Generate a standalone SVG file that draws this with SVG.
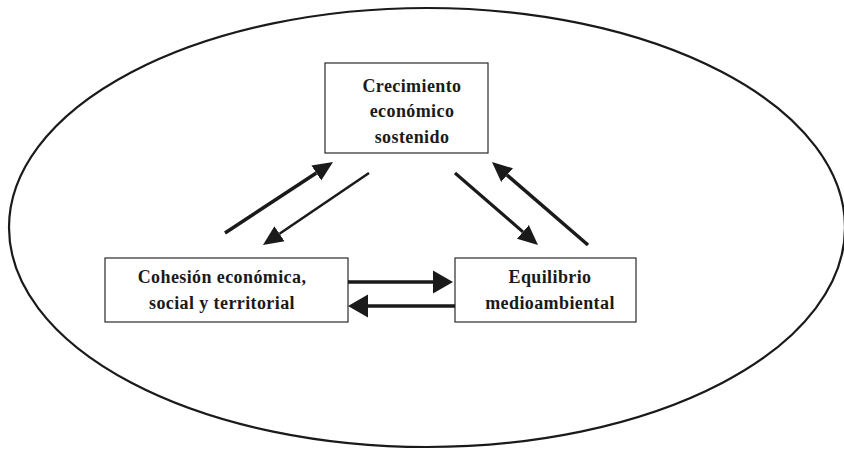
<svg xmlns="http://www.w3.org/2000/svg" width="844" height="450" viewBox="0 0 844 450">
<style>
.box{fill:#fff;stroke:#2a2a2a;stroke-width:1.2}
.lbl{font-family:"Liberation Serif","Times New Roman",serif;font-weight:bold;font-size:18px;letter-spacing:0.4px;fill:#1a1a1a;text-anchor:middle}
.conn{stroke:#1a1a1a;fill:none}
</style>
<defs>
<marker id="ah" markerUnits="userSpaceOnUse" viewBox="0 -10 20 20" refX="0" refY="0" markerWidth="20" markerHeight="20" orient="auto">
<path d="M0,-9 L20,0 L0,9 z" fill="#1a1a1a"/>
</marker>
<marker id="ahh" markerUnits="userSpaceOnUse" viewBox="0 -12 20 24" refX="0" refY="0" markerWidth="20" markerHeight="24" orient="auto">
<path d="M0,-11.5 L20,0 L0,11.5 z" fill="#1a1a1a"/>
</marker>
</defs>
<ellipse cx="427" cy="227.5" rx="418" ry="219.5" fill="none" stroke="#1a1a1a" stroke-width="2.2"/>
<g id="node-crecimiento">
<rect class="box" x="325" y="63" width="163" height="90"/>
<text class="lbl" x="412" y="92">Crecimiento</text>
<text class="lbl" x="412" y="117">económico</text>
<text class="lbl" x="412" y="143">sostenido</text>
</g>
<g id="node-cohesion">
<rect class="box" x="105" y="258" width="243" height="64"/>
<text class="lbl" x="222" y="283">Cohesión económica,</text>
<text class="lbl" x="222" y="309">social y territorial</text>
</g>
<g id="node-equilibrio">
<rect class="box" x="455" y="258" width="181" height="64"/>
<text class="lbl" x="550" y="283">Equilibrio</text>
<text class="lbl" x="550" y="309">medioambiental</text>
</g>
<g id="connectors">
<path class="conn" stroke-width="3.5" d="M225,233 L316.3,173" marker-end="url(#ah)"/>
<path class="conn" stroke-width="2.5" d="M369,173 L279.5,233.8" marker-end="url(#ah)"/>
<path class="conn" stroke-width="3.2" d="M455,173 L522.9,231.9" marker-end="url(#ah)"/>
<path class="conn" stroke-width="3.5" d="M588,245 L507.1,175.1" marker-end="url(#ah)"/>
<path class="conn" stroke-width="3.5" d="M348,282 L433,282" marker-end="url(#ahh)"/>
<path class="conn" stroke-width="3.5" d="M455,306 L368,306" marker-end="url(#ahh)"/>
</g>
</svg>
